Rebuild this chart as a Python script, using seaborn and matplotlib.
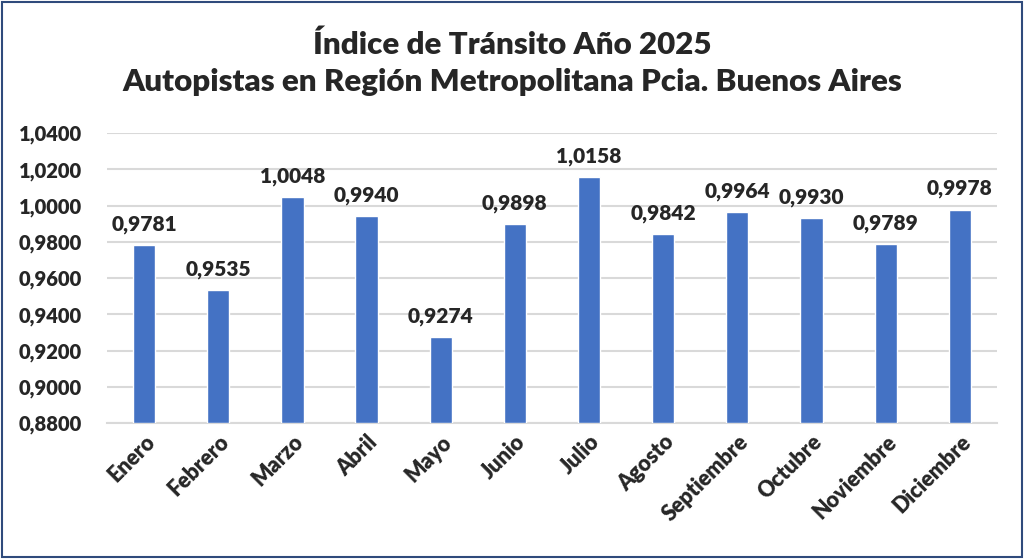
import matplotlib
matplotlib.use("Agg")
import matplotlib.pyplot as plt
import seaborn as sns
import pandas as pd
from matplotlib.ticker import FuncFormatter
from matplotlib.patches import Rectangle

meses = ["Enero", "Febrero", "Marzo", "Abril", "Mayo", "Junio", "Julio",
         "Agosto", "Septiembre", "Octubre", "Noviembre", "Diciembre"]
indice = [0.9781, 0.9535, 1.0048, 0.9940, 0.9274, 0.9898, 1.0158,
          0.9842, 0.9964, 0.9930, 0.9789, 0.9978]
y_ticks = [0.88, 0.90, 0.92, 0.94, 0.96, 0.98, 1.00, 1.02, 1.04]

titulo = "Índice de Tránsito Año 2025\nAutopistas en Región Metropolitana Pcia. Buenos Aires"

sns.set_style("white")
plt.rcParams["font.family"] = ["Lato", "DejaVu Sans"]
peso = "heavy"


def coma(v, pos=None):
    return f"{v:.4f}".replace(".", ",")


df = pd.DataFrame({"mes": meses, "indice": indice})

fig = plt.figure(figsize=(10.24, 5.59), dpi=100)
ax = fig.add_axes([0.1045, 0.2433, 0.869, 0.5187])

# bars start at the axis floor (0.88), like the Excel original
base = y_ticks[0]
df["alto"] = df["indice"] - base
sns.barplot(data=df, x="mes", y="alto", bottom=base, color="#4472C4",
            width=0.3, saturation=1, ax=ax, zorder=3)

ax.set_ylim(y_ticks[0], y_ticks[-1])
ax.set_yticks(y_ticks)
ax.yaxis.set_major_formatter(FuncFormatter(coma))
ax.set_xlim(-0.5, len(meses) - 0.5)
ax.grid(axis="y", color="#D9D9D9", linewidth=1.5, zorder=0)
for s in ["top", "right", "left"]:
    ax.spines[s].set_visible(False)
ax.spines["bottom"].set_color("#D9D9D9")
ax.spines["bottom"].set_linewidth(1.5)
ax.set_xlabel("")
ax.set_ylabel("")
ax.tick_params(axis="both", length=0)
ax.tick_params(axis="y", pad=18, labelsize=14.5)
ax.tick_params(axis="x", pad=6, labelsize=15.5)
for lab in ax.get_xticklabels():
    lab.set_rotation(45)
    lab.set_ha("right")
    lab.set_rotation_mode("anchor")
    lab.set_fontweight(peso)
for lab in ax.get_yticklabels():
    lab.set_fontweight(peso)

for i, v in enumerate(indice):
    ax.annotate(coma(v), (i, v), xytext=(0, 8), textcoords="offset points",
                ha="center", va="bottom", fontsize=15, fontweight=peso)

fig.suptitle(titulo, y=0.945, fontsize=22.5, fontweight=peso, linespacing=1.38)

fig.patches.append(Rectangle((0.002, 0.003), 0.996, 0.994, transform=fig.transFigure,
                             fill=False, edgecolor="#2F4B7C", linewidth=1.5))

fig.savefig("out.png", dpi=100)
